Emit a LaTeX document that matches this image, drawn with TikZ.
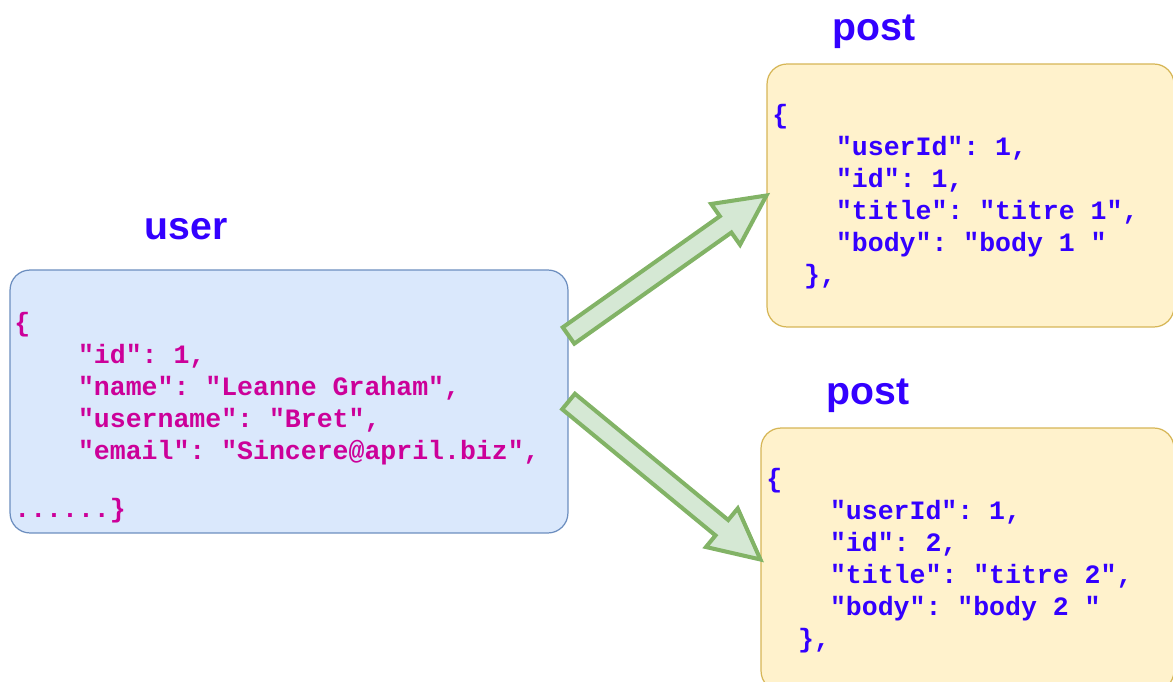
\documentclass[tikz,border=0pt]{standalone}
\usepackage{fontspec}
\setmainfont{Liberation Sans}
\newfontfamily\codefont{Liberation Mono}
\usepackage{xcolor}
\usepackage{tikz}
\usetikzlibrary{calc}

\definecolor{userfill}{HTML}{DAE8FC}
\definecolor{userdraw}{HTML}{6C8EBF}
\definecolor{postfill}{HTML}{FFF2CC}
\definecolor{postdraw}{HTML}{D6B656}
\definecolor{arrowfill}{HTML}{D5E8D4}
\definecolor{arrowdraw}{HTML}{82B366}
\definecolor{usercolor}{HTML}{CC0099}
\definecolor{postcolor}{HTML}{3300FF}

\newcommand{\ind}{\hphantom{0000}}
% flat outlined arrow from #1 to #2
\newcommand{\flatarrow}[2]{%
 \draw[flexarrow] ($(#1)!0.2cm!90:(#2)$)
 -- ($(#2)!1cm!(#1)!0.2cm!90:(#2)$)
 -- ($(#2)!1cm!(#1)!0.5cm!90:(#2)$)
 -- (#2)
 -- ($(#2)!1cm!(#1)!0.5cm!-90:(#2)$)
 -- ($(#2)!1cm!(#1)!0.2cm!-90:(#2)$)
 -- ($(#1)!0.2cm!-90:(#2)$) -- cycle;}

\begin{document}
\begin{tikzpicture}[x=0.02cm,y=-0.02cm,
 userbox/.style={draw=userdraw,fill=userfill,line width=0.7pt,rounded corners=0.4cm,
  minimum width=11.16cm,minimum height=5.26cm},
 postbox/.style={draw=postdraw,fill=postfill,line width=0.7pt,rounded corners=0.4cm,
  minimum height=5.26cm},
 code/.style={inner sep=0pt,anchor=north west,align=left,
  font=\codefont\bfseries\fontsize{15.1pt}{18.2pt}\selectfont\frenchspacing},
 boxlabel/.style={text=postcolor,font=\bfseries\fontsize{22.3pt}{26pt}\selectfont},
 flexarrow/.style={draw=arrowdraw,fill=arrowfill,line width=2.3pt}]
 \useasboundingbox (0,0) rectangle (1173,682);

 \node[userbox] (user) at (289,401.5) {};
 \node[postbox,minimum width=8.14cm] (post1) at (970.5,195.5) {};
 \node[postbox,minimum width=8.26cm] (post2) at (967.5,559.5) {};

 \node[boxlabel] (userlabel) at (186,229) {user};
 \node[boxlabel] (post1label) at (874,32) {post};
 \node[boxlabel] (post2label) at (868,396) {post};

 \node[code,text=usercolor] (userjson) at (14,312) {\{\\
 \ind"id": 1,\\
 \ind"name": "Leanne Graham",\\
 \ind"username": "Bret",\\
 \ind"email": "Sincere@april.biz",\\[15pt]
 ......\}};

 \node[code,text=postcolor] (post1json) at (772,104) {\{\\
 \ind"userId": 1,\\
 \ind"id": 1,\\
 \ind"title": "titre 1",\\
 \ind"body": "body 1 "\\
 \hphantom{00}\},};

 \node[code,text=postcolor] (post2json) at (766,468) {\{\\
 \ind"userId": 1,\\
 \ind"id": 2,\\
 \ind"title": "titre 2",\\
 \ind"body": "body 2 "\\
 \hphantom{00}\},};

 \coordinate (tail1) at ($(user.east)+(0,-66)$);
 \flatarrow{tail1}{post1.west}
 \flatarrow{user.east}{post2.west}
\end{tikzpicture}
\end{document}
